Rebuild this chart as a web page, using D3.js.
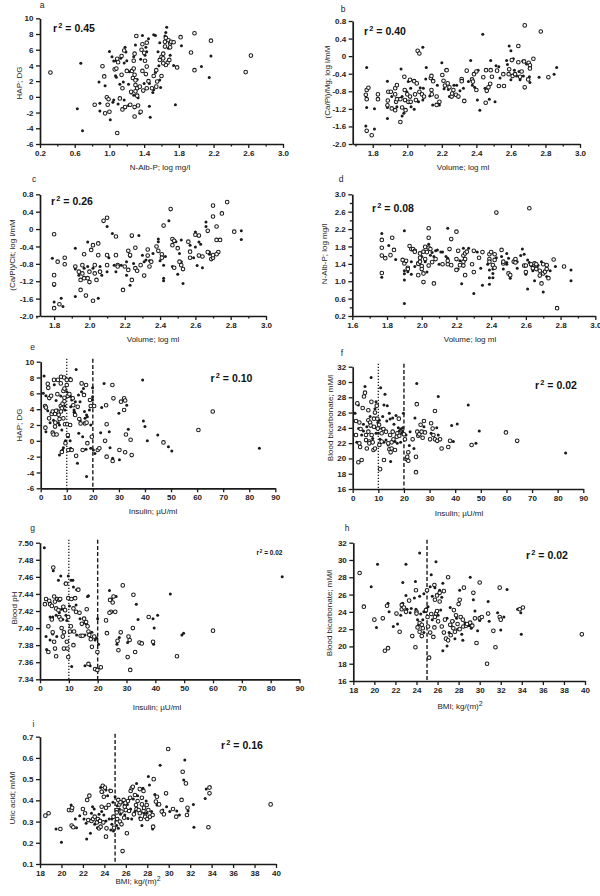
<!DOCTYPE html>
<html><head><meta charset="utf-8">
<script src="https://cdn.jsdelivr.net/npm/d3@7/dist/d3.min.js"></script>
<style>body{margin:0;background:#fff}svg{display:block}</style>
</head><body>
<svg id="chart" width="600" height="896"></svg>
<script>
// ---------- DATA (x, y) per panel: open circles / filled dots ----------
const aOpen = [[0.32,3.1],[0.83,-1.0],[0.92,3.9],[0.94,2.6],[0.95,-2.1],[0.97,-0.05],[0.99,-0.3],[0.98,-1.0],[1.0,-1.9],[1.06,3.5],[1.08,3.6],[1.09,4.85],[1.1,4.4],[1.09,-4.6],[1.12,-0.2],[1.14,2.8],[1.14,5.2],[1.15,1.1],[1.15,-1.6],[1.18,-1.3],[1.17,5.9],[1.2,3.3],[1.24,-1.0],[1.25,0.65],[1.26,3.3],[1.27,2.4],[1.28,4.6],[1.29,5.5],[1.31,7.75],[1.28,3.6],[1.29,2.8],[1.3,2.1],[1.3,1.5],[1.32,1.1],[1.3,0.7],[1.29,-1.3],[1.29,-2.5],[1.33,-1.1],[1.32,0.15],[1.35,1.3],[1.37,6.0],[1.38,6.7],[1.38,3.3],[1.39,0.8],[1.36,-1.9],[1.4,5.6],[1.41,4.6],[1.42,2.9],[1.43,3.85],[1.43,6.9],[1.45,2.0],[1.43,1.1],[1.49,1.1],[1.51,2.65],[1.54,3.4],[1.54,1.3],[1.55,1.95],[1.6,2.65],[1.58,4.7],[1.6,5.1],[1.62,5.5],[1.62,4.9],[1.64,6.4],[1.64,7.0],[1.65,7.5],[1.67,4.35],[1.65,4.05],[1.62,4.27],[1.68,7.2],[1.7,6.8],[1.71,7.0],[1.7,6.3],[1.74,6.95],[1.69,4.7],[1.78,3.75],[1.82,7.6],[1.94,5.65],[1.98,8.1],[1.98,3.4],[2.17,7.15],[2.57,3.15],[2.63,5.25]];
const aFilled = [[0.63,-1.5],[0.69,-4.3],[0.67,4.27],[0.88,1.9],[0.89,-1.8],[0.89,-0.8],[0.95,1.4],[1.0,5.76],[1.01,-2.9],[1.04,-0.7],[1.05,-0.4],[1.05,4.55],[1.03,5.1],[1.08,4.6],[1.08,2.5],[1.07,2.7],[1.1,-0.9],[1.12,1.6],[1.13,4.9],[1.16,1.9],[1.17,4.3],[1.17,-0.4],[1.19,5.7],[1.18,6.3],[1.2,4.6],[1.22,1.6],[1.23,3.2],[1.22,-1.1],[1.25,0.5],[1.28,5.1],[1.3,6.6],[1.32,2.2],[1.28,0.2],[1.33,-0.1],[1.36,4.8],[1.38,7.8],[1.4,1.7],[1.35,-2.1],[1.41,5.3],[1.45,7.4],[1.42,6.3],[1.43,5.75],[1.46,1.7],[1.5,0.55],[1.51,0.9],[1.53,3.1],[1.57,3.97],[1.56,5.75],[1.53,7.8],[1.51,7.9],[1.46,-1.2],[1.47,-2.6],[1.58,2.15],[1.59,1.2],[1.6,2.7],[1.58,6.9],[1.64,7.75],[1.65,8.2],[1.66,8.85],[1.68,4.7],[1.7,5.3],[1.68,6.2],[1.76,-1.0],[1.74,4.0],[1.83,6.5],[2.06,3.85],[2.15,2.45],[2.17,5.2]];

const bOpen = [[1.765,-0.77],[1.775,-0.72],[1.76,-0.88],[1.765,-0.98],[1.765,-1.70],[1.794,-1.8],[1.83,-0.87],[1.83,-0.98],[1.89,-0.81],[1.887,-1.01],[1.885,-1.12],[1.905,-0.81],[1.91,-1.19],[1.93,-0.73],[1.93,-0.87],[1.935,-1.04],[1.93,-1.23],[1.94,-0.98],[1.94,-0.66],[1.96,-0.98],[1.97,-1.17],[1.96,-1.5],[1.985,-0.77],[1.983,-0.47],[1.987,-1.0],[1.99,-1.23],[2.0,-0.87],[2.006,-1.04],[2.016,-0.54],[2.016,-0.92],[2.02,-1.04],[2.04,-0.57],[2.045,-0.87],[2.055,-0.62],[2.05,-1.0],[2.07,-0.81],[2.06,0.12],[2.07,0.06],[2.085,-0.87],[2.097,-0.92],[2.136,-0.5],[2.14,-0.45],[2.14,-0.77],[2.142,-0.87],[2.15,-0.57],[2.17,-1.11],[2.17,-0.92],[2.186,-1.04],[2.203,-0.43],[2.21,-0.56],[2.218,-0.67],[2.228,-0.32],[2.234,-0.62],[2.244,-0.71],[2.257,-0.92],[2.26,-0.85],[2.267,-0.77],[2.282,-0.88],[2.296,-0.92],[2.315,-0.52],[2.315,-0.57],[2.33,-1.02],[2.344,-0.33],[2.375,-0.53],[2.38,-0.58],[2.386,-0.41],[2.4,-0.35],[2.4,-0.77],[2.44,-0.48],[2.456,-0.32],[2.46,-0.79],[2.454,-1.06],[2.47,-0.71],[2.483,-0.32],[2.48,-0.63],[2.49,-0.47],[2.52,-0.33],[2.53,-0.68],[2.556,-0.41],[2.56,-0.68],[2.587,-0.41],[2.59,-0.3],[2.61,-0.45],[2.605,-0.09],[2.624,-0.41],[2.643,0.23],[2.643,-0.14],[2.653,-0.47],[2.662,-0.35],[2.676,-0.12],[2.68,0.7],[2.68,-0.71],[2.7,-0.53],[2.703,-0.15],[2.71,-0.21],[2.71,-0.28],[2.73,-0.06],[2.773,0.56],[2.817,-0.48]];
const bFilled = [[1.765,-0.26],[1.765,-1.17],[1.76,-1.59],[1.81,-1.66],[1.81,-1.2],[1.885,-0.57],[1.885,-1.42],[1.885,-1.17],[1.91,-0.92],[1.94,-1.15],[1.97,-0.92],[1.964,-0.29],[1.97,-1.36],[1.98,-1.3],[1.997,-0.81],[2.006,-0.58],[2.02,-0.73],[2.022,-1.15],[2.04,-1.21],[2.055,-1.0],[2.065,-1.04],[2.09,0.2],[2.075,-0.72],[2.09,-1.0],[2.093,-0.73],[2.107,-0.52],[2.11,-0.26],[2.13,-0.91],[2.147,-1.11],[2.174,-0.66],[2.2,-0.15],[2.186,-1.11],[2.213,-0.74],[2.222,-0.32],[2.238,-0.76],[2.244,-0.92],[2.27,-0.66],[2.286,-0.66],[2.305,-0.79],[2.325,-0.73],[2.33,-1.04],[2.354,-0.58],[2.367,-0.1],[2.377,-0.66],[2.39,-0.71],[2.406,-1.0],[2.41,-0.32],[2.42,-1.23],[2.437,0.5],[2.45,-0.73],[2.483,-0.1],[2.475,-0.98],[2.508,-1.04],[2.514,-0.22],[2.53,-0.24],[2.537,-0.5],[2.575,-0.1],[2.58,-0.19],[2.59,0.23],[2.6,0.12],[2.6,-0.54],[2.614,-0.06],[2.62,-0.32],[2.633,-0.45],[2.647,-0.35],[2.653,-0.54],[2.668,-0.11],[2.672,-0.45],[2.69,-0.18],[2.707,-0.47],[2.71,-0.6],[2.763,-0.48],[2.85,-0.41],[2.865,-0.26]];

const cOpen = [[1.8,-0.12],[1.82,-0.75],[1.8,-1.06],[1.8,-1.27],[1.8,-1.82],[1.83,-1.73],[1.86,-0.66],[1.86,-0.81],[1.92,-0.86],[1.94,-0.98],[1.95,-1.17],[1.95,-1.4],[1.96,-0.83],[1.96,-1.02],[1.97,-0.58],[1.97,-1.13],[1.98,-1.53],[1.99,-1.13],[2.0,-0.98],[2.0,-1.22],[2.01,-0.48],[2.02,-1.65],[2.02,-0.37],[2.03,-0.83],[2.03,-1.02],[2.04,-1.17],[2.05,-0.33],[2.05,-0.6],[2.06,-0.98],[2.08,0.19],[2.1,0.26],[2.1,-0.83],[2.1,-0.6],[2.15,-0.17],[2.15,-0.6],[2.16,-0.83],[2.16,-0.86],[2.19,-1.4],[2.2,-0.86],[2.22,-0.5],[2.22,-0.94],[2.23,-0.6],[2.24,-1.17],[2.24,-0.15],[2.26,-0.43],[2.26,-0.9],[2.27,-0.96],[2.29,-0.83],[2.31,-1.07],[2.33,-0.47],[2.33,-0.61],[2.34,-0.86],[2.35,-0.75],[2.38,-0.4],[2.39,-0.5],[2.41,-0.58],[2.42,0.08],[2.41,-0.66],[2.46,0.46],[2.47,-0.23],[2.47,-0.37],[2.48,-0.89],[2.48,-0.27],[2.5,-0.44],[2.51,-0.75],[2.52,-0.83],[2.53,-0.92],[2.56,-0.29],[2.57,-0.52],[2.57,-0.66],[2.6,-0.13],[2.62,-0.61],[2.62,-0.15],[2.64,-0.63],[2.67,-0.04],[2.67,-0.53],[2.69,-0.69],[2.7,-0.66],[2.7,-0.6],[2.7,0.29],[2.7,0.54],[2.72,0.06],[2.72,-0.25],[2.73,-0.53],[2.72,-0.58],[2.74,-0.25],[2.75,0.36],[2.78,0.62],[2.82,-0.06]];
const cFilled = [[1.79,-0.67],[1.8,-1.3],[1.8,-1.68],[1.84,-1.59],[1.85,-1.78],[1.92,-0.44],[1.92,-1.55],[1.92,-0.92],[1.94,-1.06],[1.97,-0.9],[1.99,-0.86],[1.99,-0.3],[2.0,-1.21],[2.02,-0.9],[2.05,-1.59],[2.06,-0.86],[2.07,-1.06],[2.1,0.06],[2.11,-0.66],[2.1,-0.98],[2.13,-0.1],[2.14,-0.83],[2.15,-0.98],[2.18,-0.83],[2.21,-1.06],[2.21,-0.75],[2.23,-0.63],[2.23,-1.29],[2.24,-0.17],[2.25,-0.79],[2.28,-0.15],[2.3,-0.6],[2.31,-0.75],[2.32,-0.71],[2.34,-0.73],[2.36,-0.56],[2.39,-0.23],[2.39,-0.29],[2.4,-0.73],[2.42,-1.13],[2.42,-1.19],[2.42,-0.83],[2.43,-0.63],[2.45,0.19],[2.47,-0.86],[2.49,-0.29],[2.5,-1.04],[2.51,-0.56],[2.52,-0.25],[2.53,-1.25],[2.52,-0.75],[2.57,-0.37],[2.59,-0.66],[2.6,-0.41],[2.6,-0.07],[2.61,-0.84],[2.62,-0.3],[2.63,-0.35],[2.64,-0.89],[2.66,0.06],[2.66,0.16],[2.68,-0.53],[2.68,-0.58],[2.86,-0.04],[2.86,-0.24]];

const dOpen = [[1.77,1.95],[1.77,1.77],[1.77,1.59],[1.77,1.19],[1.79,1.53],[1.82,1.60],[1.83,2.0],[1.84,1.72],[1.89,1.49],[1.9,1.41],[1.91,1.47],[1.92,1.31],[1.92,1.28],[1.93,1.81],[1.94,1.74],[1.95,1.74],[1.96,1.70],[1.96,1.68],[1.98,1.41],[1.98,1.14],[1.98,1.40],[1.99,1.54],[1.99,1.45],[1.99,1.64],[2.0,1.35],[2.0,1.28],[2.01,1.18],[2.01,0.98],[2.01,1.68],[2.02,1.79],[2.02,1.51],[2.03,1.67],[2.04,1.77],[2.04,2.0],[2.04,2.22],[2.04,1.36],[2.05,1.74],[2.06,1.44],[2.07,0.95],[2.08,1.51],[2.12,1.39],[2.15,1.39],[2.15,1.47],[2.16,1.74],[2.17,1.37],[2.17,1.97],[2.2,1.51],[2.2,2.14],[2.2,1.26],[2.21,1.70],[2.22,1.37],[2.24,1.36],[2.24,1.45],[2.24,1.59],[2.25,1.14],[2.25,1.51],[2.25,1.64],[2.26,1.68],[2.29,1.39],[2.3,1.21],[2.3,1.70],[2.33,1.54],[2.35,1.67],[2.39,1.51],[2.39,1.62],[2.39,1.45],[2.4,1.67],[2.41,1.37],[2.42,1.31],[2.42,1.62],[2.42,1.49],[2.43,2.58],[2.46,1.72],[2.47,1.41],[2.47,1.45],[2.5,1.18],[2.51,1.14],[2.53,1.45],[2.54,1.51],[2.54,1.43],[2.62,2.68],[2.59,1.36],[2.6,1.21],[2.6,1.36],[2.63,1.39],[2.64,1.30],[2.65,1.41],[2.66,1.31],[2.66,1.39],[2.66,1.28],[2.68,1.24],[2.68,1.13],[2.7,1.39],[2.69,0.95],[2.7,1.18],[2.72,1.37],[2.71,1.22],[2.72,1.28],[2.73,1.07],[2.76,1.50],[2.78,0.38],[2.82,1.34]];
const dFilled = [[1.77,2.10],[1.77,1.09],[1.81,1.82],[1.85,1.50],[1.9,2.16],[1.9,1.24],[1.9,1.17],[1.9,0.49],[1.9,1.03],[1.92,1.22],[1.94,1.45],[1.94,1.16],[1.96,1.34],[2.0,1.57],[2.02,1.45],[2.03,1.21],[2.04,1.85],[2.05,1.60],[2.06,1.66],[2.07,1.57],[2.08,1.70],[2.09,1.72],[2.1,1.39],[2.11,1.67],[2.12,1.67],[2.14,1.57],[2.15,2.22],[2.15,1.53],[2.21,1.28],[2.22,1.47],[2.23,0.94],[2.24,1.76],[2.25,1.49],[2.27,1.76],[2.3,0.72],[2.32,1.67],[2.34,1.30],[2.35,0.91],[2.38,1.39],[2.39,1.26],[2.39,1.08],[2.39,0.93],[2.41,1.28],[2.41,1.18],[2.41,1.08],[2.43,1.54],[2.46,1.57],[2.47,1.28],[2.49,1.64],[2.49,1.39],[2.5,1.53],[2.51,1.07],[2.49,1.43],[2.55,1.30],[2.55,1.45],[2.58,1.74],[2.57,1.59],[2.59,1.62],[2.6,1.16],[2.61,0.82],[2.61,1.49],[2.62,1.43],[2.63,1.36],[2.64,1.24],[2.65,1.01],[2.67,1.37],[2.69,1.45],[2.7,0.75],[2.72,1.11],[2.74,1.24],[2.77,1.34],[2.86,1.26],[2.86,1.01]];

const eOpen = [[1.7,4.4],[2.0,4.2],[1.8,1.66],[2.7,7.2],[2.9,6.7],[3.2,2.84],[3.3,5.4],[4.0,5.7],[4.2,3.4],[4.6,1.03],[4.6,3.7],[4.9,0.8],[5.1,7.7],[5.5,1.8],[5.6,2.3],[5.5,3.4],[5.9,3.8],[6.1,0.8],[6.6,7.7],[6.4,5.9],[6.9,3.3],[7.2,2.76],[7.8,8.1],[7.7,7.26],[7.7,4.4],[8.1,4.1],[7.8,3.7],[8.1,-1.4],[8.4,4.7],[8.7,6.3],[8.7,2.84],[9.0,8.0],[9.1,6.6],[9.1,5.45],[9.1,5.0],[9.3,2.1],[9.5,-0.3],[10.0,7.7],[10.0,7.05],[10.4,5.66],[10.2,2.1],[10.4,0.74],[10.6,-1.16],[11.0,5.9],[11.5,7.7],[11.3,2.0],[11.9,-1.16],[12.3,5.37],[12.5,4.5],[13.2,3.26],[13.6,-1.9],[14.2,4.3],[14.8,2.76],[15.3,2.2],[15.7,7.26],[16.1,-1.16],[16.6,5.8],[17.0,2.2],[17.4,7.05],[17.6,2.3],[17.9,-0.3],[18.9,5.16],[19.2,4.4],[19.6,0.5],[20.5,4.4],[21.9,-1.16],[22.5,-0.95],[24.7,0.0],[25.1,4.5],[25.3,2.1],[25.3,-2.0],[27.5,7.05],[27.6,-2.55],[27.9,5.37],[30.2,-1.16],[30.8,4.95],[32.0,5.37],[32.0,3.9],[32.4,5.1],[32.4,-1.45],[32.7,0.8],[34.5,0.13],[34.9,-1.8],[47.1,-0.2],[60.5,1.37],[66,3.7]];
const eFilled = [[1.3,8.2],[1.0,6.0],[2.0,1.16],[2.0,5.7],[2.7,3.8],[3.6,2.3],[4.9,2.6],[5.2,7.1],[5.9,5.1],[6.4,3.9],[6.8,2.3],[7.2,2.0],[7.7,5.66],[7.2,-1.8],[8.1,1.37],[8.7,-0.86],[8.4,-1.16],[9.3,4.4],[9.3,3.9],[9.5,0.0],[10.0,6.2],[10.6,0.5],[11.3,7.9],[11.5,4.3],[11.5,5.6],[11.3,0.0],[11.5,-0.95],[11.9,5.16],[12.8,3.9],[12.8,3.6],[13.0,3.6],[13.6,9.0],[13.3,4.95],[14.1,-2.84],[14.5,5.8],[14.6,0.95],[15.1,2.6],[15.1,4.95],[15.7,6.2],[16.1,0.5],[16.4,6.6],[16.8,3.7],[17.0,2.84],[17.6,3.26],[17.4,-1.07],[17.9,3.05],[17.6,-4.5],[18.7,3.9],[19.2,2.0],[19.2,-0.95],[19.9,5.16],[19.9,5.58],[19.9,6.7],[20.2,-1.16],[20.8,-1.6],[23.0,1.03],[23.4,4.2],[24.3,7.26],[26.3,1.16],[26.6,-0.86],[27.6,-2.2],[30.0,3.5],[30.2,-2.4],[33.0,4.5],[33.6,1.45],[39.1,7.7],[39.4,2.5],[40.0,1.8],[40.9,0.0],[44.9,0.74],[49.0,-0.74],[50.3,-1.3],[83.9,-0.95]];

const fOpen = [[1.3,24.9],[1.3,23.06],[1.8,27.2],[2.6,24.7],[2.6,21.97],[2.9,21.5],[2.2,19.5],[3.5,19.8],[3.1,23.85],[3.9,26.6],[4.4,28.1],[4.8,28.6],[5.2,23.06],[5.2,22.4],[5.5,21.3],[6.1,26.3],[6.1,25.0],[6.1,23.5],[6.5,22.2],[6.5,21.97],[6.8,24.7],[7.3,27.4],[7.0,24.3],[7.4,23.06],[7.8,22.1],[8.1,21.1],[8.3,25.2],[8.3,24.15],[8.7,26.0],[8.7,21.3],[9.4,26.9],[9.6,25.2],[9.8,23.9],[10.3,24.4],[10.4,21.75],[10.7,18.6],[11.3,23.3],[11.3,22.2],[12.0,23.85],[12.2,19.8],[13.0,23.5],[13.9,21.97],[14.3,21.2],[14.6,23.06],[14.8,20.8],[15.2,22.1],[15.2,21.3],[15.6,23.5],[15.9,22.5],[16.5,21.1],[17.2,22.85],[17.4,23.3],[18.0,25.2],[18.2,22.97],[20.0,23.15],[20.4,22.5],[21.1,19.9],[21.3,20.2],[21.7,20.8],[21.7,19.7],[23.4,22.5],[24.7,20.2],[24.7,18.2],[25.0,27.1],[25.2,23.5],[25.6,22.97],[26.0,23.15],[26.5,24.4],[26.9,23.5],[27.3,22.7],[27.8,24.9],[28.2,23.4],[30.2,22.5],[30.6,24.6],[31.2,23.9],[31.5,23.06],[32.1,26.2],[32.1,22.5],[33.0,22.3],[34.1,22.5],[34.7,21.3],[37.3,21.5],[38.0,22.3],[46.4,21.75],[59.8,23.4],[64.2,22.3]];
const fFilled = [[0.9,25.9],[1.6,22.1],[2.2,27.0],[2.3,23.9],[3.5,23.06],[4.2,24.46],[4.2,23.6],[4.8,29.4],[5.5,24.15],[6.8,25.5],[7.2,30.6],[7.8,22.6],[8.7,26.5],[8.7,24.0],[9.1,27.4],[9.1,23.3],[9.8,24.7],[10.0,23.3],[10.4,25.0],[10.7,22.5],[10.9,29.25],[11.3,23.9],[11.7,25.5],[12.2,27.0],[12.2,22.1],[12.6,28.4],[13.0,22.4],[13.3,24.9],[13.5,26.9],[13.9,21.75],[14.3,25.9],[14.6,25.15],[14.8,19.6],[15.6,25.3],[16.1,24.46],[16.5,22.2],[16.9,25.6],[17.4,21.97],[17.8,24.0],[18.2,23.6],[18.7,22.1],[18.7,23.85],[19.1,23.3],[19.5,24.0],[19.5,23.6],[19.8,25.9],[20.8,23.06],[22.1,21.7],[22.4,23.5],[23.9,21.3],[24.3,25.3],[25.0,29.8],[27.8,24.15],[30.6,23.3],[32.8,24.0],[33.4,28.1],[33.4,23.06],[38.6,24.3],[39.3,22.2],[40.8,24.5],[45.1,27.0],[48.1,22.0],[49.4,23.6],[83.1,20.7]];

const gOpen = [[2.1,7.434],[1.7,7.428],[2.9,7.372],[2.9,7.402],[3.2,7.432],[3.5,7.428],[4.1,7.426],[4.1,7.410],[4.4,7.395],[4.6,7.471],[4.9,7.437],[4.9,7.384],[5.2,7.431],[5.2,7.376],[5.6,7.367],[5.6,7.423],[6.0,7.434],[6.4,7.421],[6.7,7.433],[6.7,7.413],[7.0,7.434],[7.2,7.410],[7.5,7.400],[7.9,7.390],[8.1,7.425],[8.3,7.395],[8.3,7.376],[8.7,7.421],[9.0,7.452],[9.3,7.384],[9.5,7.376],[9.8,7.435],[9.8,7.413],[9.8,7.366],[10.4,7.396],[10.7,7.402],[10.9,7.434],[11.6,7.423],[11.8,7.396],[11.6,7.380],[12.2,7.435],[12.5,7.419],[13.3,7.445],[13.7,7.418],[14.1,7.391],[14.5,7.405],[14.8,7.391],[15.3,7.411],[16.0,7.407],[16.2,7.422],[16.5,7.402],[16.8,7.396],[17.1,7.392],[17.6,7.387],[18.0,7.378],[18.8,7.390],[19.9,7.372],[16.8,7.358],[19.1,7.352],[19.9,7.351],[21.1,7.354],[22.9,7.409],[23.2,7.394],[24.3,7.433],[25.2,7.430],[25.5,7.437],[26.1,7.419],[24.6,7.419],[24.1,7.418],[26.9,7.385],[27.2,7.374],[28.0,7.395],[28.7,7.450],[30.7,7.390],[31.1,7.386],[30.4,7.366],[31.3,7.351],[32.2,7.400],[32.4,7.439],[33.0,7.372],[34.5,7.383],[35.3,7.382],[37.7,7.413],[39.2,7.384],[47.5,7.367],[60.0,7.397]];
const gFilled = [[1.5,7.494],[2.1,7.390],[2.3,7.375],[3.5,7.413],[3.5,7.386],[4.4,7.413],[4.4,7.393],[4.6,7.467],[5.6,7.415],[5.8,7.390],[6.4,7.456],[6.7,7.418],[7.2,7.461],[7.5,7.422],[7.9,7.410],[8.7,7.452],[9.0,7.415],[9.3,7.409],[9.8,7.461],[10.2,7.426],[10.8,7.456],[11.4,7.456],[11.6,7.448],[11.8,7.435],[12.5,7.427],[12.7,7.445],[12.7,7.392],[13.9,7.411],[15.1,7.406],[15.6,7.392],[16.0,7.405],[16.5,7.437],[16.8,7.438],[18.0,7.395],[19.1,7.386],[19.7,7.388],[20.0,7.411],[20.3,7.381],[11.0,7.355],[15.6,7.356],[17.4,7.356],[24.1,7.444],[24.9,7.434],[26.4,7.437],[26.7,7.381],[27.5,7.389],[30.4,7.383],[33.4,7.428],[34.0,7.410],[39.2,7.411],[40.8,7.415],[39.6,7.400],[39.4,7.381],[45.2,7.440],[49.2,7.392],[49.8,7.394],[84.0,7.460]];

const hOpen = [[18.6,28.5],[19.0,24.6],[20.0,23.1],[20.8,23.25],[21.0,19.5],[21.3,19.8],[21.2,24.7],[22.1,23.8],[22.4,21.7],[22.6,24.8],[22.6,24.3],[22.8,24.5],[23.0,24.0],[23.3,25.3],[23.6,21.2],[23.9,19.9],[24.0,24.0],[23.95,26.5],[24.0,23.8],[24.1,22.2],[24.3,22.7],[24.3,21.7],[24.5,22.5],[24.5,21.2],[24.6,22.1],[24.9,24.2],[25.0,26.5],[25.05,23.4],[25.1,22.3],[25.2,18.7],[25.3,21.6],[25.4,23.75],[25.6,21.1],[25.7,22.2],[25.7,27.1],[25.75,25.4],[25.75,23.4],[25.85,23.8],[25.95,25.9],[25.95,24.1],[26.05,22.9],[26.2,25.2],[26.2,26.2],[26.4,22.3],[26.6,21.6],[26.6,26.4],[26.7,23.1],[26.8,20.9],[27.0,20.7],[27.0,28.0],[27.2,22.5],[27.25,21.3],[27.4,22.9],[27.5,22.1],[27.55,24.2],[27.65,21.7],[27.75,23.6],[27.9,22.6],[28.0,24.9],[28.1,25.4],[28.1,22.0],[28.2,23.4],[28.4,23.1],[28.45,22.3],[28.5,26.8],[28.7,22.4],[28.8,22.6],[29.1,22.75],[29.3,22.4],[29.4,26.2],[29.55,23.25],[29.7,20.4],[30.0,27.4],[30.0,23.25],[30.2,23.4],[30.7,18.0],[30.8,23.8],[31.3,21.8],[31.5,19.9],[31.9,26.8],[31.9,23.4],[32.0,23.1],[33.8,24.3],[34.1,24.5],[39.7,21.4]];
const hFilled = [[19.7,26.9],[20.3,29.5],[20.2,22.2],[21.3,25.0],[21.4,24.0],[21.8,22.3],[22.2,22.6],[22.5,23.6],[22.7,25.0],[22.7,27.4],[23.0,29.5],[23.0,25.9],[23.1,24.3],[23.4,23.9],[23.5,24.4],[23.8,25.6],[23.9,27.5],[23.95,24.3],[24.1,23.1],[24.2,22.5],[24.3,25.8],[24.3,30.8],[24.4,23.75],[24.6,23.1],[24.7,24.0],[24.7,26.1],[24.7,21.6],[24.9,24.0],[24.95,24.4],[25.1,24.6],[25.3,26.9],[25.4,28.3],[25.5,25.8],[25.5,23.1],[25.75,26.8],[25.85,29.8],[26.05,23.6],[26.2,26.5],[26.3,24.2],[26.4,25.7],[26.5,19.5],[26.5,27.3],[26.9,23.25],[26.9,20.05],[27.1,21.6],[27.2,24.5],[27.3,22.4],[27.5,22.9],[27.65,20.9],[27.8,23.25],[27.9,22.0],[28.1,26.5],[28.3,21.4],[28.4,20.7],[28.6,22.75],[28.75,22.4],[29.0,22.4],[29.1,28.0],[29.2,22.1],[29.4,25.4],[29.55,24.1],[29.8,21.8],[30.0,23.0],[30.8,25.2],[30.9,22.9],[31.7,23.9],[32.0,21.9],[32.3,23.4],[32.6,26.6],[33.6,24.3],[33.9,23.9],[33.95,21.4]];

const iOpen = [[18.5,0.328],[18.8,0.339],[19.9,0.265],[20.7,0.354],[20.95,0.354],[21.0,0.365],[20.95,0.281],[21.1,0.273],[22.0,0.359],[22.2,0.339],[22.4,0.402],[22.6,0.422],[22.5,0.307],[22.8,0.303],[22.95,0.312],[23.1,0.323],[23.3,0.296],[23.4,0.312],[23.5,0.268],[23.6,0.303],[23.65,0.276],[23.75,0.441],[23.75,0.370],[23.85,0.469],[23.9,0.296],[23.95,0.417],[24.05,0.460],[24.15,0.365],[24.2,0.268],[24.15,0.229],[24.4,0.378],[24.6,0.444],[24.85,0.323],[24.9,0.271],[25.15,0.354],[25.15,0.343],[25.2,0.312],[25.3,0.402],[25.4,0.381],[25.45,0.300],[25.5,0.391],[25.6,0.347],[25.6,0.287],[25.7,0.161],[25.8,0.402],[25.85,0.318],[25.9,0.370],[26.0,0.354],[26.1,0.245],[26.2,0.397],[26.3,0.350],[26.4,0.412],[26.45,0.444],[26.55,0.457],[26.65,0.464],[26.75,0.334],[26.85,0.425],[26.95,0.378],[27.0,0.359],[27.1,0.397],[27.2,0.354],[27.3,0.339],[27.3,0.453],[27.4,0.312],[27.5,0.412],[27.5,0.381],[27.65,0.350],[27.65,0.444],[27.7,0.365],[27.8,0.323],[27.95,0.378],[28.0,0.312],[28.1,0.354],[28.25,0.323],[28.5,0.331],[28.6,0.500],[28.55,0.276],[28.8,0.394],[28.9,0.417],[29.1,0.381],[29.35,0.347],[29.75,0.433],[29.55,0.334],[29.95,0.642],[30.4,0.359],[30.7,0.323],[31.2,0.402],[31.3,0.535],[31.6,0.480],[31.7,0.331],[31.75,0.365],[33.7,0.273],[33.8,0.433],[33.8,0.460],[39.5,0.381]];
const iFilled = [[19.5,0.265],[20.0,0.202],[20.9,0.378],[21.4,0.271],[21.3,0.312],[21.7,0.328],[22.1,0.312],[22.3,0.292],[22.35,0.218],[22.7,0.245],[22.8,0.339],[22.9,0.370],[23.05,0.359],[23.1,0.287],[23.35,0.271],[23.5,0.334],[23.65,0.460],[23.75,0.347],[23.85,0.438],[23.95,0.331],[24.15,0.449],[24.15,0.303],[24.3,0.422],[24.5,0.449],[24.45,0.312],[24.7,0.312],[24.6,0.260],[24.7,0.287],[24.8,0.391],[24.85,0.256],[25.0,0.417],[25.1,0.307],[25.15,0.281],[25.2,0.375],[25.3,0.268],[25.4,0.359],[25.5,0.334],[25.7,0.391],[25.85,0.378],[25.9,0.331],[26.15,0.381],[26.2,0.315],[26.45,0.359],[26.55,0.312],[26.7,0.406],[26.85,0.347],[27.0,0.480],[27.1,0.422],[27.3,0.318],[27.5,0.281],[27.6,0.457],[27.7,0.339],[27.9,0.397],[27.95,0.339],[28.1,0.512],[28.2,0.472],[28.4,0.347],[28.5,0.265],[28.7,0.428],[28.9,0.378],[29.2,0.566],[29.45,0.354],[29.8,0.370],[30.1,0.347],[30.75,0.350],[31.0,0.331],[31.4,0.496],[31.5,0.590],[31.8,0.350],[32.3,0.381],[32.35,0.273],[33.4,0.409],[33.5,0.453],[33.85,0.464]];

// ---------- tick values ----------
const ticksNAlbX = [0.2,0.6,1.0,1.4,1.8,2.2,2.6,3.0];
const minorNAlbX = [0.4,0.8,1.2,1.6,2.0,2.4,2.8];
const ticksHAP = [-6,-4,-2,0,2,4,6,8,10];
const ticksVolX = [1.8,2.0,2.2,2.4,2.6,2.8,3.0];
const minorVolX = [1.7,1.9,2.1,2.3,2.5,2.7,2.9];
const ticksRatioY = [-2.0,-1.6,-1.2,-0.8,-0.4,0,0.4,0.8];
const ticksVolXd = [1.6,1.8,2.0,2.2,2.4,2.6,2.8,3.0];
const minorVolXd = [1.7,1.9,2.1,2.3,2.5,2.7,2.9];
const ticksNAlbY = [0.2,0.6,1.0,1.4,1.8,2.2,2.6,3.0];
const minorNAlbY = [0.4,0.8,1.2,1.6,2.0,2.4,2.8];
const ticksInsulin = [0,10,20,30,40,50,60,70,80,90];
const ticksBicarb = [16,18,20,22,24,26,28,30,32];
const ticksPH = [7.34,7.36,7.38,7.40,7.42,7.44,7.46,7.48,7.50];
const ticksBMI = [18,20,22,24,26,28,30,32,34,36,38,40];
const ticksUric = [0.1,0.2,0.3,0.4,0.5,0.6,0.7];

const r2Values = ['0.45','0.40','0.26','0.08','0.10','0.02','0.02','0.02','0.16'];

// ---------- formats ----------
const fInt = d => String(d);
const f1 = d => d.toFixed(1);
const f1z = d => d === 0 ? '0' : d.toFixed(1);
const f2 = d => d.toFixed(2);

// ---------- panel layout ----------
const panels = [
 {L:'a', open:aOpen, filled:aFilled, xr:[40,283], yr:[144,18.3], xd:[0.2,3.0], yd:[-6,10], xt:ticksNAlbX, xm:minorNAlbX, yt:ticksHAP, ym:[], xf:f1, yf:fInt,
  letter:[42,8], r2:[53,32,10.5], xl:'N-Alb-P; log mg/l', xlp:[160,169.5], yl:'HAP; DG', ylp:[18.5,83], lines:[]},
 {L:'b', open:bOpen, filled:bFilled, xr:[352.7,580], yr:[144,21], xd:[1.684,3.0], yd:[-2.0,0.8], xt:ticksVolX, xm:minorVolX, yt:ticksRatioY, ym:[], xf:f1, yf:f1z,
  letter:[343,12], r2:[364,34.5,10.5], xl:'Volume; log ml', xlp:[463,169.5], yl:'(Ca/Pi)/Mg; log l/mM', yl2:true, ylp:[327,82], lines:[]},
 {L:'c', open:cOpen, filled:cFilled, xr:[40,266], yr:[316,194.3], xd:[1.72,3.0], yd:[-2.0,0.8], xt:ticksVolX, xm:minorVolX, yt:ticksRatioY, ym:[], xf:f1, yf:f1z,
  letter:[34,182], r2:[51,204.5,10.5], xl:'Volume; log ml', xlp:[153,342], yl:'(Ca/Pi)/Cit; log l/mM', ylp:[12,255], lines:[]},
 {L:'d', open:dOpen, filled:dFilled, xr:[352.3,595.3], yr:[316,194.3], xd:[1.6,3.0], yd:[0.2,3.0], xt:ticksVolXd, xm:minorVolXd, yt:ticksNAlbY, ym:minorNAlbY, xf:f1, yf:f1,
  letter:[341,182], r2:[372,211.5,10.5], xl:'Volume; log ml', xlp:[470,342], yl:'N-Alb-P; log mg/l', ylp:[323.5,254], lines:[]},
 {L:'e', open:eOpen, filled:eFilled, xr:[40.7,275.3], yr:[488.3,361.7], xd:[0,90], yd:[-6,10], xt:ticksInsulin, xm:[], yt:ticksHAP, ym:[], xf:fInt, yf:fInt,
  letter:[32.5,350], r2:[210.5,382,10.5], xl:'Insulin; µU/ml', xlp:[153,513.5], yl:'HAP; DG', ylp:[18.5,425], lines:[[10,'dot'],[20,'dash']]},
 {L:'f', open:fOpen, filled:fFilled, xr:[352.7,583.3], yr:[489,366.7], xd:[0,90], yd:[16,32], xt:ticksInsulin, xm:[], yt:ticksBicarb, ym:[], xf:fInt, yf:fInt,
  letter:[342,356], r2:[535,389,10.5], xl:'Insulin; µU/ml', xlp:[459,515.5], yl:'Blood bicarbonate; mM/l', ylp:[330,418], lines:[[10,'dot'],[20,'dash']]},
 {L:'g', open:gOpen, filled:gFilled, xr:[40,299.5], yr:[679.3,542.7], xd:[0,90], yd:[7.34,7.50], xt:ticksInsulin, xm:[], yt:ticksPH, ym:[], xf:fInt, yf:f2,
  letter:[32.5,531], r2:[256.5,555,6.5], xl:'Insulin; µU/ml', xlp:[157,709.5], yl:'Blood pH', ylp:[13.5,608], lines:[[10,'dot'],[20,'dash']]},
 {L:'h', open:hOpen, filled:hFilled, xr:[353.3,585], yr:[681,542.7], xd:[18,40], yd:[16,32], xt:ticksBMI, xm:[], yt:ticksBicarb, ym:[], xf:fInt, yf:fInt,
  letter:[347,531], r2:[526,558.5,10.5], xl:'BMI; kg/(m)', sup:true, xlp:[460,709], yl:'Blood bicarbonate; mM/l', ylp:[328.5,613], lines:[[25,'dash']]},
 {L:'i', open:iOpen, filled:iFilled, xr:[40,276], yr:[864,736.7], xd:[18,40], yd:[0.1,0.7], xt:ticksBMI, xm:[], yt:ticksUric, ym:[], xf:fInt, yf:f1,
  letter:[33.5,727], r2:[221,749,10.5], xl:'BMI; kg/(m)', sup:true, xlp:[138,884], yl:'Uric acid; mM/l', ylp:[12,798], lines:[[25,'dash']]}
];

const svg = d3.select('#chart');
const FONT = '"Liberation Sans", Arial, Helvetica, sans-serif';
const INK = '#1a1a1a';

panels.forEach((p, idx) => {
  const x = d3.scaleLinear().domain(p.xd).range(p.xr);
  const y = d3.scaleLinear().domain(p.yd).range(p.yr);
  const g = svg.append('g');

  // reference lines
  p.lines.forEach(([v, kind]) => {
    g.append('line')
      .attr('x1', x(v)).attr('x2', x(v))
      .attr('y1', p.yr[1] - 3).attr('y2', p.yr[0])
      .attr('stroke', INK)
      .attr('stroke-width', kind === 'dot' ? 1.3 : 1.4)
      .attr('stroke-dasharray', kind === 'dot' ? '1.2,1.8' : '4,2.2');
  });

  // axes
  const xAxis = d3.axisBottom(x).tickValues(p.xt).tickFormat(p.xf).tickSize(4).tickSizeOuter(0).tickPadding(2);
  const yAxis = d3.axisLeft(y).tickValues(p.yt).tickFormat(p.yf).tickSize(4).tickSizeOuter(0).tickPadding(2.5);
  const gx = g.append('g').attr('transform', `translate(0,${p.yr[0]})`).call(xAxis);
  const gy = g.append('g').attr('transform', `translate(${p.xr[0]},0)`).call(yAxis);
  if (p.xm.length) {
    g.append('g').attr('transform', `translate(0,${p.yr[0]})`)
      .call(d3.axisBottom(x).tickValues(p.xm).tickFormat('').tickSize(2.5).tickSizeOuter(0))
      .select('.domain').remove();
  }
  if (p.ym.length) {
    g.append('g').attr('transform', `translate(${p.xr[0]},0)`)
      .call(d3.axisLeft(y).tickValues(p.ym).tickFormat('').tickSize(2.5).tickSizeOuter(0))
      .select('.domain').remove();
  }
  g.selectAll('.domain').attr('stroke', INK).attr('stroke-width', 1.7);
  g.selectAll('.tick line').attr('stroke', INK).attr('stroke-width', 1.3);
  g.selectAll('.tick text').attr('font-family', FONT).attr('font-size', 8)
    .attr('font-weight', 'bold').attr('fill', '#222');

  // points
  g.append('g').selectAll('circle').data(p.filled).join('circle')
    .attr('cx', d => x(d[0])).attr('cy', d => y(d[1])).attr('r', 1.5)
    .attr('fill', INK);
  g.append('g').selectAll('circle').data(p.open).join('circle')
    .attr('cx', d => x(d[0])).attr('cy', d => y(d[1])).attr('r', 1.8)
    .attr('fill', '#fff').attr('stroke', INK).attr('stroke-width', 1.05);

  // panel letter
  g.append('text').attr('x', p.letter[0]).attr('y', p.letter[1])
    .attr('text-anchor', 'middle').attr('font-family', FONT).attr('font-size', 8.5)
    .attr('fill', '#222').text(p.L);

  // r^2 label
  const rs = p.r2[2];
  const rt = g.append('text').attr('x', p.r2[0]).attr('y', p.r2[1])
    .attr('font-family', FONT).attr('font-size', rs).attr('font-weight', 'bold').attr('fill', '#111');
  rt.append('tspan').text('r');
  rt.append('tspan').attr('dx', rs * 0.12).attr('dy', -rs * 0.38).attr('font-size', rs * 0.7).text('2');
  rt.append('tspan').attr('dy', rs * 0.38).text(' = ' + r2Values[idx]);

  // x-axis title
  const xt = g.append('text').attr('x', p.xlp[0]).attr('y', p.xlp[1])
    .attr('text-anchor', 'middle').attr('font-family', FONT).attr('font-size', 8)
    .attr('fill', '#222').text(p.xl);
  if (p.sup) xt.append('tspan').attr('dy', -3.5).attr('font-size', 7).text('2');

  // y-axis title
  g.append('text')
    .attr('transform', `translate(${p.ylp[0] + 3},${p.ylp[1]}) rotate(-90)`)
    .attr('text-anchor', 'middle').attr('font-family', FONT).attr('font-size', 8)
    .attr('fill', '#222').text(p.yl);
});
</script>
</body></html>
